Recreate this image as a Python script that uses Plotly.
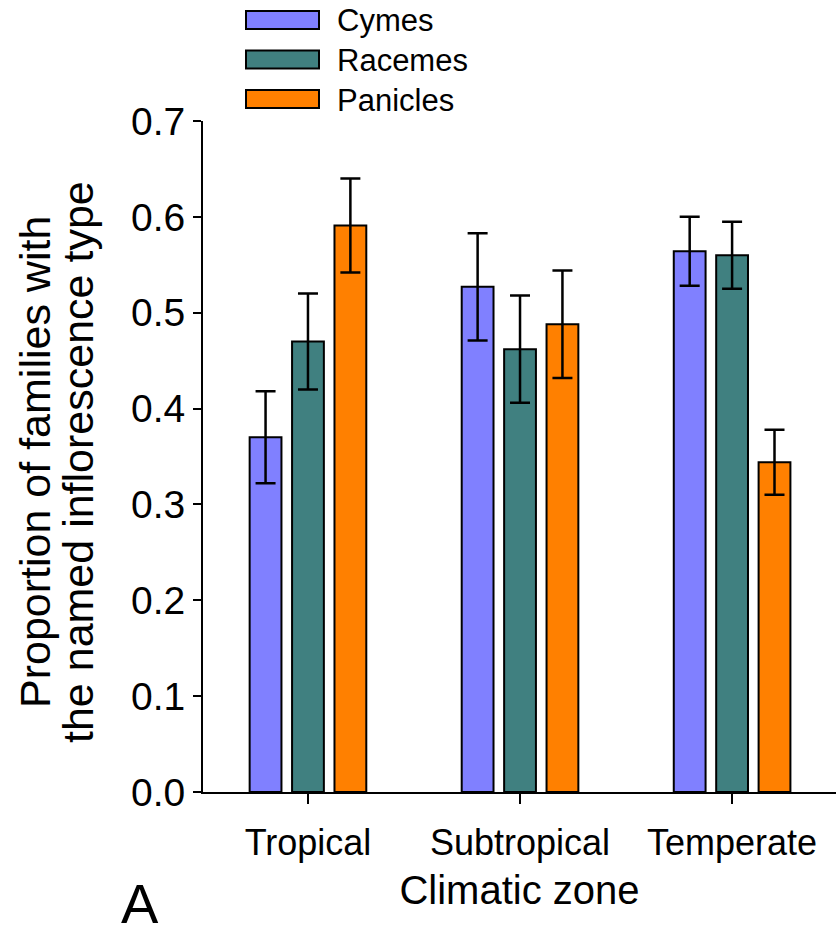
import plotly.graph_objects as go

zones = ["Tropical", "Subtropical", "Temperate"]
series_names = ["Cymes", "Racemes", "Panicles"]
cymes = [0.370, 0.527, 0.564]
racemes = [0.470, 0.462, 0.560]
panicles = [0.591, 0.488, 0.344]
cymes_err = [0.048, 0.056, 0.036]
racemes_err = [0.050, 0.056, 0.035]
panicles_err = [0.049, 0.056, 0.034]
colors = ["#8080FF", "#408080", "#FF8000"]
y_ticks = [0.0, 0.1, 0.2, 0.3, 0.4, 0.5, 0.6, 0.7]
y_title_lines = ["Proportion of families with", "the named inflorescence type"]

FONT = "Liberation Sans, Arial, sans-serif"

# plot area in pixels: left 203, right 836, top 121, bottom 792
L, R, T, B = 203, 836, 121, 792
W, H = R - L, B - T


def px_x(p):
    return (p - L) / W


def px_y(p):
    return (B - p) / H


fig = go.Figure()
for name, vals, errs, col in zip(series_names, [cymes, racemes, panicles],
                                 [cymes_err, racemes_err, panicles_err], colors):
    fig.add_trace(go.Bar(
        x=zones, y=vals, name=name,
        marker=dict(color=col, line=dict(color="black", width=2)),
        error_y=dict(type="data", array=errs, visible=True,
                     color="black", thickness=2.5, width=10),
        showlegend=False,
    ))

# custom legend (wide swatches like the original)
for i, (name, col) in enumerate(zip(series_names, colors)):
    yc = 20 + 39.5 * i
    fig.add_shape(type="rect", xref="paper", yref="paper",
                  x0=px_x(246), x1=px_x(319),
                  y0=px_y(yc + 9), y1=px_y(yc - 9),
                  fillcolor=col, line=dict(color="black", width=2))
    fig.add_annotation(text=name, xref="paper", yref="paper",
                       x=px_x(335), y=px_y(yc + 1),
                       xanchor="left", yanchor="middle", showarrow=False,
                       font=dict(family=FONT, size=31, color="black"))

# y-axis title, two lines
for line, xc in zip(y_title_lines, [35, 78]):
    fig.add_annotation(text=line, xref="paper", yref="paper",
                       x=px_x(xc), y=px_y(462), textangle=-90,
                       xanchor="center", yanchor="middle", showarrow=False,
                       font=dict(family=FONT, size=43, color="black"))

fig.add_annotation(text="A", xref="paper", yref="paper",
                   x=px_x(140), y=px_y(904), xanchor="center", yanchor="middle",
                   showarrow=False, font=dict(family=FONT, size=56, color="black"))

fig.update_layout(
    width=836, height=937,
    margin=dict(l=L, r=836 - R, t=T, b=937 - B, autoexpand=False),
    paper_bgcolor="white", plot_bgcolor="white",
    barmode="group", bargap=0.4, bargroupgap=0.25,
    font=dict(family=FONT, color="black"),
)
fig.update_xaxes(
    range=[-0.495, 2.49], showline=True, linecolor="black", linewidth=2,
    ticks="outside", ticklen=10, tickwidth=2, tickcolor="black",
    ticklabelstandoff=8,
    tickfont=dict(size=36), showgrid=False, zeroline=False,
    title=dict(text="Climatic zone", font=dict(size=40), standoff=14),
)
fig.update_yaxes(
    range=[0, 0.7], tickvals=y_ticks, tickformat=".1f",
    showline=True, linecolor="black", linewidth=2,
    ticks="outside", ticklen=8, tickwidth=2, tickcolor="black",
    tickfont=dict(size=39), showgrid=False, zeroline=False,
)

fig.write_html("out.html")
